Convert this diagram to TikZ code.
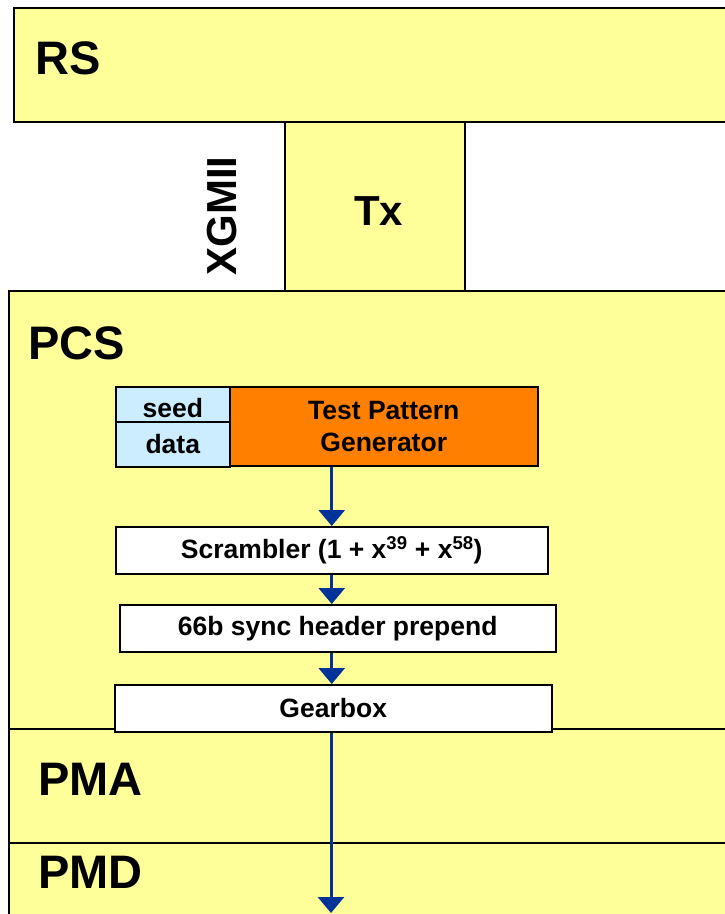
\documentclass[tikz,border=0pt]{standalone}
\usepackage{fontspec}
\setmainfont{Liberation Sans}
\usetikzlibrary{arrows.meta}

\definecolor{layeryellow}{HTML}{FFFF99}
\definecolor{tpgorange}{HTML}{FF8000}
\definecolor{seedblue}{HTML}{CCECFF}
\definecolor{flowblue}{HTML}{003399}

\begin{document}
\begin{tikzpicture}[x=1pt, y=-1pt,
    layer/.style={draw, line width=1.5pt, fill=layeryellow, anchor=north west, inner sep=0pt},
    biglabel/.style={font=\fontsize{47}{50}\selectfont\bfseries, anchor=base west, inner sep=0pt},
    midlabel/.style={font=\fontsize{42}{44}\selectfont\bfseries, inner sep=0pt},
    smallbox/.style={draw, line width=1.5pt, anchor=north west, inner sep=0pt,
        font=\fontsize{26.5}{32}\selectfont\bfseries},
    stage/.style={smallbox, fill=white},
    flow/.style={draw=flowblue, line width=3pt, -{Triangle[width=26pt, length=16pt]}}]

    % Page frame
    \useasboundingbox (0,0) rectangle (725,914);
    \clip (0,0) rectangle (725,914);

    % Layers
    \node[layer, minimum width=720pt, minimum height=114pt] (rs) at (13,7) {};
    \node[layer, midlabel, text height=38pt, minimum width=180pt, minimum height=169pt] (tx) at (284,121) {\hspace*{8pt}Tx};
    \node[layer, minimum width=725pt, minimum height=438pt] (pcs) at (8,290) {};
    \node[layer, minimum width=725pt, minimum height=114pt] (pma) at (8,728) {};
    \node[layer, minimum width=725pt, minimum height=80pt] (pmd) at (8,842) {};

    % Layer labels
    \node[biglabel] (rslabel) at (35,74) {RS};
    \node[biglabel] (pcslabel) at (28,359) {PCS};
    \node[biglabel] (pmalabel) at (38,795) {PMA};
    \node[biglabel] (pmdlabel) at (38,888) {PMD};
    \node[midlabel, rotate=90] (xgmii) at (222,216) {XGMII};

    % Test pattern generator
    \node[smallbox, fill=seedblue, text height=26pt, minimum width=114pt, minimum height=35pt] (seed) at (115,386) {seed};
    \node[smallbox, fill=seedblue, minimum width=114pt, minimum height=45pt] (data) at (115,421) {data};
    \node[smallbox, fill=tpgorange, align=center, minimum width=308pt, minimum height=79pt] (tpg) at (229,386) {Test Pattern\\Generator};

    % Transmit chain
    \node[stage, minimum width=432pt, minimum height=47pt] (scr) at (115,526) {Scrambler (1 + x\textsuperscript{39} + x\textsuperscript{58})};
    \node[stage, minimum width=436pt, minimum height=47pt] (hdr) at (119,604) {66b sync header prepend};
    \node[stage, minimum width=437pt, minimum height=47pt] (gear) at (114,684) {Gearbox};
    \coordinate (out) at (331,913);

    % Data flow
    \draw[flow] (tpg.south -| scr.north) -- (scr.north);
    \draw[flow] (scr.south) -- (scr.south |- hdr.north);
    \draw[flow] (scr.south |- hdr.south) -- (scr.south |- gear.north);
    \draw[flow] (gear.south -| out) -- (out);

\end{tikzpicture}
\end{document}
